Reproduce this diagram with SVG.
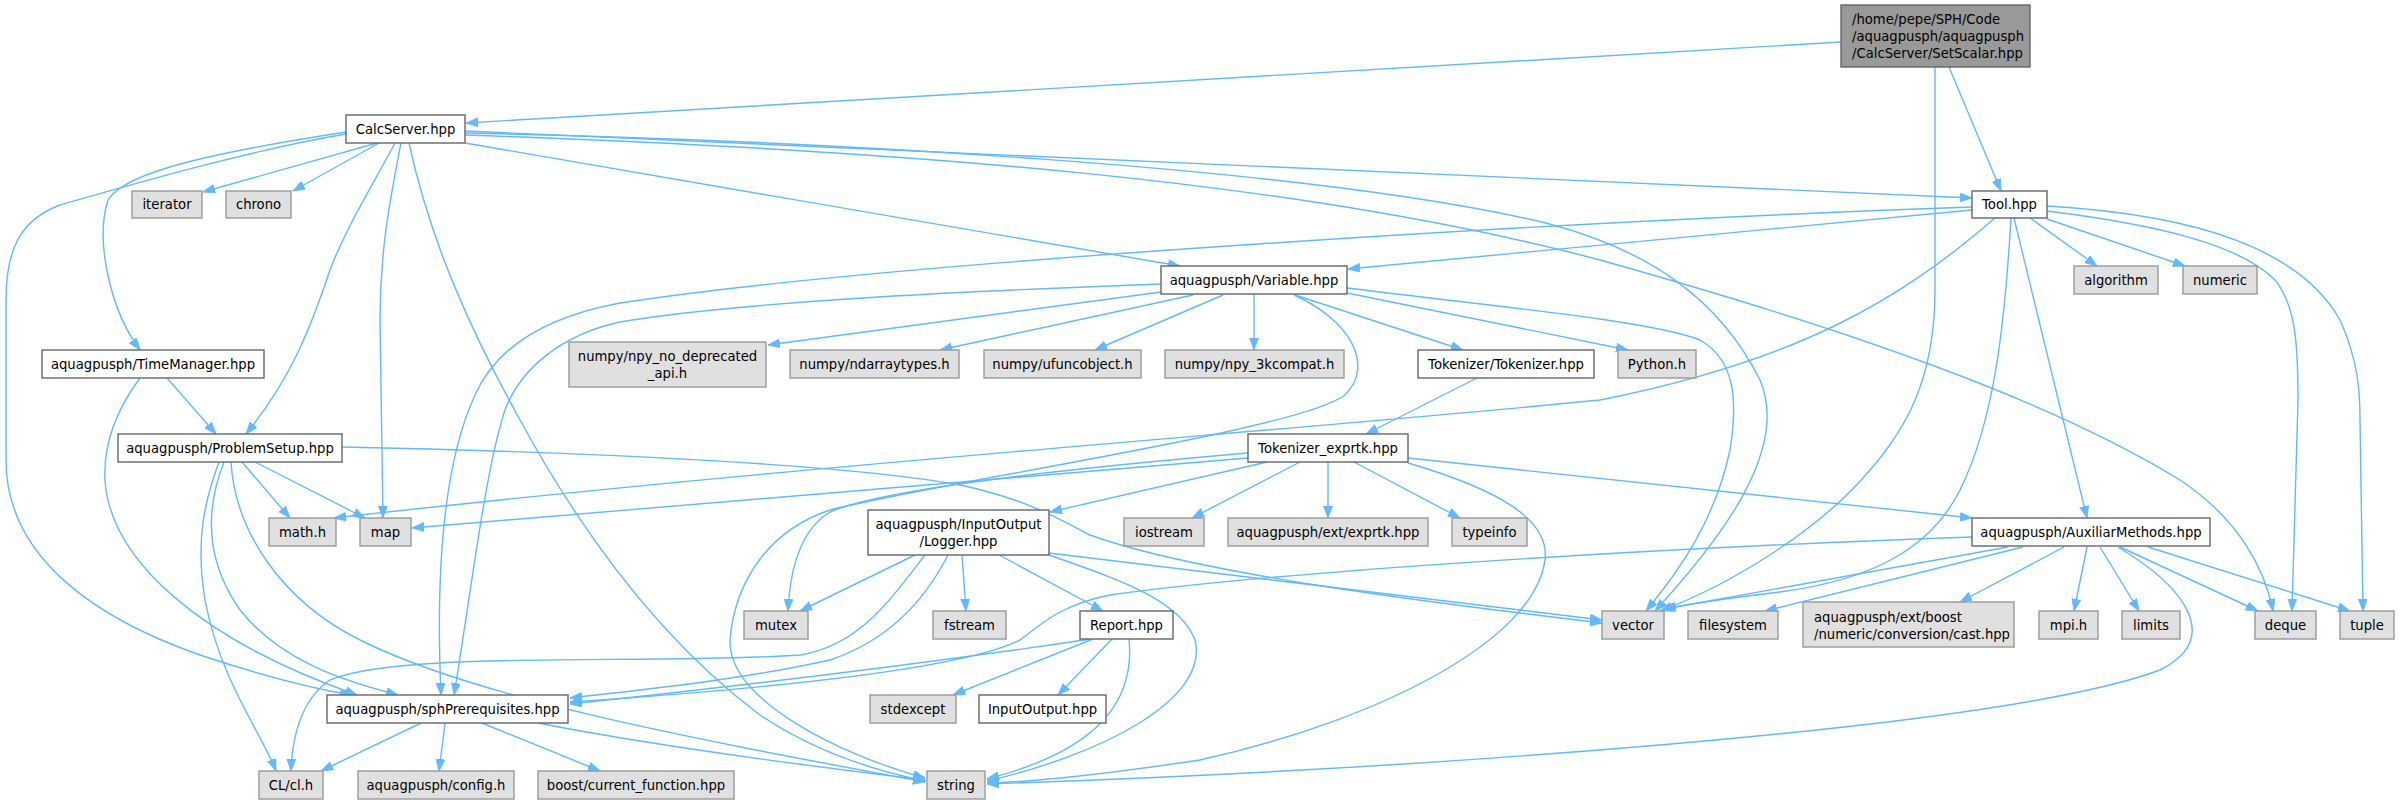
<svg xmlns="http://www.w3.org/2000/svg" width="2401" height="804" viewBox="0 0 2401 804">
<style>
text{font-family:"DejaVu Sans","Noto Sans",sans-serif;font-size:13.2px;fill:#000}
.c{text-anchor:middle}
.l{text-anchor:start}
.n rect{fill:#fff;stroke:#666;stroke-width:1.4}
.s rect{fill:#e0e0e0;stroke:#999;stroke-width:1.4}
.r rect{fill:#999;stroke:#666;stroke-width:1.4}
#edges path{fill:none;stroke:#63b8ff;stroke-width:1.4;marker-end:url(#ah)}
</style>
<defs>
<marker id="ah" markerUnits="userSpaceOnUse" markerWidth="13" markerHeight="10" refX="12" refY="4.5" orient="auto">
<path d="M0,0 L12,4.5 L0,9 z" fill="#63b8ff" stroke="#63b8ff" stroke-width="0.8"/>
</marker>
</defs>
<rect width="2401" height="804" fill="#fff"/>
<g id="edges">
<path d="M1841,42 L466,123"/>
<path d="M1949,67 L2001,191"/>
<path d="M1935,67 L1935,290 C1935,380 1905,430 1870,470 C1820,530 1730,585 1660,611"/>
<path d="M377,143 L203,192"/>
<path d="M379,143 L293,191"/>
<path d="M346,132 C230,150 125,170 108,200 C95,240 110,310 140,350"/>
<path d="M346,134 C250,150 130,185 60,205 C20,220 6,250 6,300 L6,460 C6,560 100,620 200,655 C260,675 310,688 352,695"/>
<path d="M395,143 C370,190 345,230 330,270 C310,330 290,380 246,434"/>
<path d="M401,143 C390,200 380,250 380,320 L383,518"/>
<path d="M409,143 C430,240 470,330 520,420 C580,530 660,640 760,715 C820,755 880,772 926,781"/>
<path d="M465,143 L1180,266"/>
<path d="M465,131 L1972,198"/>
<path d="M465,133 C800,140 1300,165 1546,223 C1650,250 1720,300 1760,380 C1790,450 1720,540 1655,611"/>
<path d="M465,135 C900,150 1300,180 1600,260 C1850,330 2050,400 2180,480 C2240,520 2265,570 2273,611"/>
<path d="M1972,210 L1348,269"/>
<path d="M1972,207 C1600,220 900,260 620,303 C540,318 495,350 475,395 C445,460 435,560 441,695"/>
<path d="M1161,284 C1000,290 750,300 620,322 C560,335 520,370 505,410 C485,470 470,600 454,695"/>
<path d="M1995,218 C1900,300 1800,360 1600,400 C1300,430 800,465 334,518"/>
<path d="M2011,218 C2005,320 1995,420 1960,490 C1930,550 1870,580 1780,592 C1730,598 1690,603 1662,610"/>
<path d="M2014,218 L2087,518"/>
<path d="M2030,218 L2097,266"/>
<path d="M2047,219 L2185,266"/>
<path d="M2047,211 C2160,225 2240,245 2275,280 C2295,305 2298,340 2298,400 L2292,611"/>
<path d="M2047,206 C2200,215 2300,250 2340,320 C2358,360 2360,390 2360,420 L2363,611"/>
<path d="M1161,292 L768,345"/>
<path d="M1193,295 L940,350"/>
<path d="M1223,295 L1095,350"/>
<path d="M1254,295 L1254,350"/>
<path d="M1295,295 L1463,350"/>
<path d="M1347,293 L1628,350"/>
<path d="M1347,288 C1480,305 1650,320 1700,340 C1735,360 1738,400 1730,450 C1715,520 1680,570 1646,611"/>
<path d="M1294,295 C1350,320 1375,365 1345,395 C1300,430 950,480 830,510 C770,530 735,580 730,640 C728,700 840,755 925,778"/>
<path d="M1248,453 C1050,470 880,490 830,512 C800,530 790,570 788,611"/>
<path d="M1267,462 L1050,512"/>
<path d="M1300,462 L1192,518"/>
<path d="M1328,462 L1328,518"/>
<path d="M1354,462 L1460,518"/>
<path d="M1408,458 L1972,518"/>
<path d="M1408,463 C1500,490 1550,520 1545,560 C1535,640 1380,720 1200,760 C1100,775 1030,782 987,783"/>
<path d="M1248,458 L412,528"/>
<path d="M915,555 L800,611"/>
<path d="M925,555 C890,600 860,645 800,655 C650,665 400,650 330,680 C300,700 292,740 291,771"/>
<path d="M948,555 C925,600 890,640 830,660 C740,680 640,690 570,698"/>
<path d="M962,555 L966,611"/>
<path d="M999,555 L1103,611"/>
<path d="M1049,555 C1120,580 1180,600 1195,640 C1210,700 1100,755 987,781"/>
<path d="M1049,553 L1602,620"/>
<path d="M1091,639 C950,660 750,685 570,704"/>
<path d="M1093,639 L953,695"/>
<path d="M1112,639 L1058,695"/>
<path d="M1129,639 C1135,700 1100,750 987,779"/>
<path d="M219,462 C205,500 195,540 205,600 C220,680 260,730 276,771"/>
<path d="M224,462 C205,510 205,560 240,610 C280,660 340,680 398,695"/>
<path d="M231,462 C235,530 280,600 360,640 C480,700 700,740 925,782"/>
<path d="M242,462 L290,518"/>
<path d="M255,462 L365,518"/>
<path d="M342,447 C600,452 850,465 960,485 C1030,500 1060,520 1090,535 C1200,575 1450,605 1602,623"/>
<path d="M167,378 L216,434"/>
<path d="M140,378 C120,405 103,440 105,480 C110,560 200,640 357,695"/>
<path d="M421,723 L321,771"/>
<path d="M445,723 L439,771"/>
<path d="M482,723 L600,771"/>
<path d="M538,723 C650,745 800,765 925,780"/>
<path d="M1477,378 L1366,434"/>
<path d="M1972,537 C1600,550 1250,575 1110,595 C1060,605 1040,625 1020,640 C960,670 750,690 570,702"/>
<path d="M2008,547 L1664,609"/>
<path d="M2023,547 L1765,611"/>
<path d="M2064,547 L1960,602"/>
<path d="M2087,547 L2074,611"/>
<path d="M2100,547 L2139,611"/>
<path d="M2120,547 L2258,611"/>
<path d="M2118,547 C2190,590 2220,640 2160,670 C2000,730 1400,770 987,784"/>
<path d="M2148,547 L2350,611"/>
</g>
<g id="n_setscalar" class="r"><rect x="1841" y="5" width="189" height="62"/><text class="l" x="1852" y="23.7">/home/pepe/SPH/Code</text><text class="l" x="1852" y="40.7">/aquagpusph/aquagpusph</text><text class="l" x="1852" y="57.7">/CalcServer/SetScalar.hpp</text></g>
<g id="n_calcserver" class="n"><rect x="346" y="115" width="119" height="28"/><text class="c" x="405.5" y="133.7">CalcServer.hpp</text></g>
<g id="n_tool" class="n"><rect x="1972" y="191" width="75" height="27"/><text class="c" x="2009.5" y="209.2">Tool.hpp</text></g>
<g id="n_iterator" class="s"><rect x="132" y="191" width="70" height="27"/><text class="c" x="167" y="209.2">iterator</text></g>
<g id="n_chrono" class="s"><rect x="226" y="191" width="65" height="27"/><text class="c" x="258.5" y="209.2">chrono</text></g>
<g id="n_algorithm" class="s"><rect x="2074" y="266" width="84" height="28"/><text class="c" x="2116" y="284.7">algorithm</text></g>
<g id="n_numeric" class="s"><rect x="2183" y="266" width="74" height="28"/><text class="c" x="2220" y="284.7">numeric</text></g>
<g id="n_variable" class="n"><rect x="1161" y="266" width="186" height="28"/><text class="c" x="1254" y="284.7">aquagpusph/Variable.hpp</text></g>
<g id="n_timemanager" class="n"><rect x="42" y="350" width="222" height="28"/><text class="c" x="153" y="368.7">aquagpusph/TimeManager.hpp</text></g>
<g id="n_npynodep" class="s"><rect x="569" y="342" width="197" height="45"/><text class="c" x="667.5" y="360.7">numpy/npy_no_deprecated</text><text class="c" x="667.5" y="377.7">_api.h</text></g>
<g id="n_ndarraytypes" class="s"><rect x="790" y="350" width="169" height="28"/><text class="c" x="874.5" y="368.7">numpy/ndarraytypes.h</text></g>
<g id="n_ufuncobject" class="s"><rect x="984" y="350" width="157" height="28"/><text class="c" x="1062.5" y="368.7">numpy/ufuncobject.h</text></g>
<g id="n_npy3k" class="s"><rect x="1165" y="350" width="179" height="28"/><text class="c" x="1254.5" y="368.7">numpy/npy_3kcompat.h</text></g>
<g id="n_tokenizer" class="n"><rect x="1418" y="350" width="176" height="28"/><text class="c" x="1506" y="368.7">Tokenizer/Tokenizer.hpp</text></g>
<g id="n_python" class="s"><rect x="1618" y="350" width="78" height="28"/><text class="c" x="1657" y="368.7">Python.h</text></g>
<g id="n_problemsetup" class="n"><rect x="118" y="434" width="224" height="28"/><text class="c" x="230" y="452.7">aquagpusph/ProblemSetup.hpp</text></g>
<g id="n_tokexprtk" class="n"><rect x="1248" y="434" width="160" height="28"/><text class="c" x="1328" y="452.7">Tokenizer_exprtk.hpp</text></g>
<g id="n_math" class="s"><rect x="269" y="518" width="67" height="28"/><text class="c" x="302.5" y="536.7">math.h</text></g>
<g id="n_map" class="s"><rect x="360" y="518" width="51" height="28"/><text class="c" x="385.5" y="536.7">map</text></g>
<g id="n_logger" class="n"><rect x="868" y="510" width="181" height="45"/><text class="c" x="958.5" y="528.7">aquagpusph/InputOutput</text><text class="c" x="958.5" y="545.7">/Logger.hpp</text></g>
<g id="n_iostream" class="s"><rect x="1124" y="518" width="80" height="28"/><text class="c" x="1164" y="536.7">iostream</text></g>
<g id="n_exprtk" class="s"><rect x="1228" y="518" width="200" height="28"/><text class="c" x="1328" y="536.7">aquagpusph/ext/exprtk.hpp</text></g>
<g id="n_typeinfo" class="s"><rect x="1452" y="518" width="75" height="28"/><text class="c" x="1489.5" y="536.7">typeinfo</text></g>
<g id="n_auxiliar" class="n"><rect x="1972" y="518" width="238" height="28"/><text class="c" x="2091" y="536.7">aquagpusph/AuxiliarMethods.hpp</text></g>
<g id="n_mutex" class="s"><rect x="744" y="611" width="64" height="28"/><text class="c" x="776" y="629.7">mutex</text></g>
<g id="n_fstream" class="s"><rect x="933" y="611" width="73" height="28"/><text class="c" x="969.5" y="629.7">fstream</text></g>
<g id="n_report" class="n"><rect x="1080" y="611" width="93" height="28"/><text class="c" x="1126.5" y="629.7">Report.hpp</text></g>
<g id="n_vector" class="s"><rect x="1602" y="611" width="62" height="28"/><text class="c" x="1633" y="629.7">vector</text></g>
<g id="n_filesystem" class="s"><rect x="1688" y="611" width="90" height="28"/><text class="c" x="1733" y="629.7">filesystem</text></g>
<g id="n_cast" class="s"><rect x="1803" y="602" width="211" height="45"/><text class="l" x="1814" y="621.7">aquagpusph/ext/boost</text><text class="l" x="1814" y="638.7">/numeric/conversion/cast.hpp</text></g>
<g id="n_mpi" class="s"><rect x="2039" y="611" width="59" height="28"/><text class="c" x="2068.5" y="629.7">mpi.h</text></g>
<g id="n_limits" class="s"><rect x="2122" y="611" width="58" height="28"/><text class="c" x="2151" y="629.7">limits</text></g>
<g id="n_deque" class="s"><rect x="2255" y="611" width="61" height="28"/><text class="c" x="2285.5" y="629.7">deque</text></g>
<g id="n_tuple" class="s"><rect x="2340" y="611" width="54" height="28"/><text class="c" x="2367" y="629.7">tuple</text></g>
<g id="n_sphprereq" class="n"><rect x="327" y="695" width="241" height="28"/><text class="c" x="447.5" y="713.7">aquagpusph/sphPrerequisites.hpp</text></g>
<g id="n_stdexcept" class="s"><rect x="870" y="695" width="86" height="28"/><text class="c" x="913" y="713.7">stdexcept</text></g>
<g id="n_inputoutput" class="n"><rect x="979" y="695" width="127" height="28"/><text class="c" x="1042.5" y="713.7">InputOutput.hpp</text></g>
<g id="n_cl" class="s"><rect x="259" y="771" width="64" height="28"/><text class="c" x="291" y="789.7">CL/cl.h</text></g>
<g id="n_config" class="s"><rect x="358" y="771" width="156" height="28"/><text class="c" x="436" y="789.7">aquagpusph/config.h</text></g>
<g id="n_boost" class="s"><rect x="538" y="771" width="196" height="28"/><text class="c" x="636" y="789.7">boost/current_function.hpp</text></g>
<g id="n_string" class="s"><rect x="927" y="771" width="58" height="28"/><text class="c" x="956" y="789.7">string</text></g>
</svg>
